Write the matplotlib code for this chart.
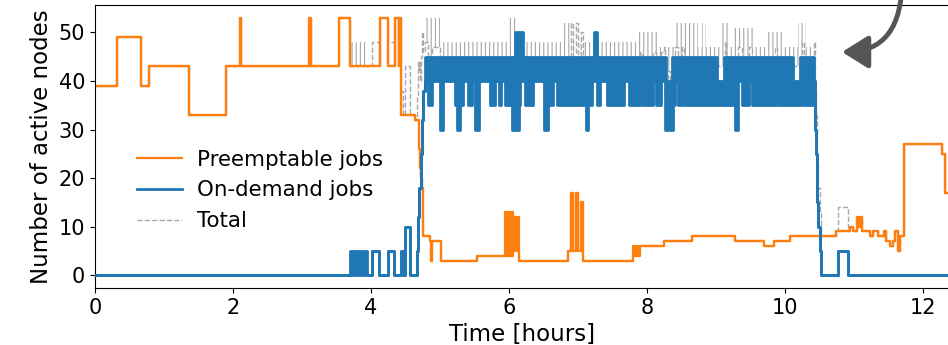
import numpy as np
import matplotlib
matplotlib.use("Agg")
import matplotlib.pyplot as plt
from matplotlib.patches import FancyArrowPatch


# Data -------------------------
# step series: value holds from t[i] until t[i+1]
# lo/hi differ only where the trace flickers too fast to see single steps

# preemptable jobs
pre_t = [0.00, 0.32, 0.67, 0.78, 1.36, 1.90, 2.10, 2.12, 3.10, 3.115,
         3.12, 3.13, 3.53, 3.69, 4.13, 4.24, 4.35, 4.40, 4.41, 4.44,
         4.64, 4.69, 4.70, 4.71, 4.72, 4.74, 4.76, 4.86, 4.87, 4.88,
         5.02, 5.53, 5.94, 6.06, 6.14, 6.85, 6.90, 6.93, 6.97, 7.00,
         7.04, 7.07, 7.79, 7.90, 8.24, 8.65, 9.28, 9.69, 9.84, 10.07,
         10.74, 10.94, 10.99, 11.04, 11.06, 11.08, 11.11, 11.16, 11.23, 11.28,
         11.35, 11.43, 11.46, 11.52, 11.57, 11.59, 11.64, 11.66, 11.72, 12.27,
         12.32, 12.40]
pre_lo = [39, 49, 39, 43, 33, 43, 53, 43, 53, 43,
          53, 43, 53, 43, 53, 43, 53, 43, 53, 33,
          32, 30, 26, 22, 20, 18, 8, 7, 3, 7,
          3, 4, 4, 5, 3, 5, 17, 5, 17, 5,
          15, 3, 4, 6, 7, 8, 7, 6, 7, 8,
          9, 10, 9, 12, 10, 12, 9, 9, 8, 9,
          8, 9, 7, 6, 7, 9, 5, 8, 27, 25,
          17, 17]
pre_hi = [39, 49, 39, 43, 33, 43, 53, 43, 53, 43,
          53, 43, 53, 43, 53, 43, 53, 43, 53, 33,
          32, 30, 26, 22, 20, 18, 8, 7, 3, 7,
          3, 4, 13, 12, 3, 5, 17, 5, 17, 5,
          15, 3, 6, 6, 7, 8, 7, 6, 7, 8,
          9, 10, 9, 12, 10, 12, 9, 9, 8, 9,
          8, 9, 7, 6, 7, 9, 5, 8, 27, 25,
          17, 17]

# on-demand jobs
od_t = [0.00, 3.69, 3.94, 4.02, 4.12, 4.24, 4.33, 4.44, 4.46, 4.49,
        4.56, 4.66, 4.68, 4.70, 4.72, 4.74, 4.76, 4.78, 4.83, 4.88,
        5.00, 5.05, 5.22, 5.24, 5.29, 5.34, 5.41, 5.46, 5.51, 5.56,
        5.72, 5.80, 5.85, 5.89, 5.94, 6.04, 6.08, 6.14, 6.16, 6.20,
        6.23, 6.35, 6.50, 6.56, 6.59, 6.64, 6.69, 6.84, 6.98, 7.03,
        7.10, 7.12, 7.15, 7.20, 7.23, 7.27, 7.28, 7.32, 7.42, 7.67,
        7.74, 7.90, 7.93, 8.08, 8.13, 8.21, 8.26, 8.28, 8.30, 8.33,
        8.36, 8.37, 8.41, 8.45, 8.50, 8.54, 9.01, 9.11, 9.13, 9.15,
        9.28, 9.32, 9.37, 9.48, 9.52, 9.86, 9.89, 10.12, 10.22, 10.24,
        10.27, 10.42, 10.43, 10.44, 10.45, 10.46, 10.47, 10.48, 10.50, 10.52,
        10.77, 10.92, 12.40]
od_lo = [0, 0, 0, 5, 0, 5, 0, 5, 0, 10,
         0, 5, 12, 18, 25, 32, 38, 40, 35, 40,
         30, 40, 35, 30, 35, 40, 35, 40, 30, 40,
         35, 40, 35, 40, 35, 30, 30, 35, 40, 40,
         35, 40, 30, 40, 35, 40, 35, 35, 35, 35,
         35, 30, 35, 40, 40, 35, 35, 40, 35, 40,
         35, 40, 35, 40, 35, 40, 30, 30, 35, 30,
         30, 35, 40, 35, 40, 35, 35, 35, 40, 35,
         30, 40, 35, 40, 35, 40, 35, 35, 35, 40,
         35, 40, 35, 30, 25, 20, 15, 10, 5, 0,
         5, 0, 0]
od_hi = [0, 5, 0, 5, 0, 5, 0, 5, 0, 10,
         0, 5, 12, 18, 25, 32, 38, 45, 45, 45,
         45, 45, 45, 45, 45, 45, 45, 45, 45, 45,
         45, 45, 45, 45, 45, 45, 50, 50, 50, 45,
         45, 45, 45, 45, 45, 45, 45, 45, 45, 45,
         45, 45, 45, 45, 50, 50, 45, 45, 45, 45,
         45, 45, 45, 45, 45, 45, 45, 40, 40, 40,
         45, 45, 45, 45, 45, 45, 40, 45, 45, 45,
         45, 45, 45, 45, 45, 45, 45, 40, 45, 45,
         45, 40, 35, 30, 25, 20, 15, 10, 5, 0,
         5, 0, 0]

# upper edge of the total while on-demand jobs are running (peaks do not line up)
tot_band_t = [4.78, 5.00, 5.97, 6.13, 6.76, 6.93, 7.11, 7.13, 7.85, 8.14,
              8.41, 8.74, 8.79, 8.86, 9.08, 9.18, 9.23, 9.56, 9.73, 9.97,
              10.19, 10.31, 10.42]
tot_band_v = [53, 48, 53, 48, 52, 48, 53, 48, 50, 47,
              52, 47, 52, 47, 52, 47, 51, 47, 50, 47,
              52, 47, 47]

x_ticks = [0, 2, 4, 6, 8, 10, 12]
y_ticks = [0, 10, 20, 30, 40, 50]

c_pre = "#ff7f0e"
c_od = "#1f77b4"
c_tot = "#a8a8a8"


# Total = sum of both on a common grid ---------
def value_at(t, v, grid):
    idx = np.searchsorted(t, grid, side="right") - 1
    return np.asarray(v, dtype=float)[idx]

grid = np.union1d(np.union1d(pre_t, od_t), tot_band_t)
tot_lo = value_at(pre_t, pre_lo, grid) + value_at(od_t, od_lo, grid)
tot_hi = value_at(pre_t, pre_hi, grid) + value_at(od_t, od_hi, grid)
in_band = (grid >= tot_band_t[0]) & (grid < tot_band_t[-1])
tot_hi[in_band] = np.maximum(value_at(tot_band_t, tot_band_v, grid[in_band]),
                             tot_lo[in_band])


# Plot ---------
plt.rcParams["font.family"] = "DejaVu Sans"
plt.rcParams["font.size"] = 15
plt.rcParams["axes.labelsize"] = 16.5
plt.rcParams["legend.fontsize"] = 15.4
plt.rcParams["hatch.color"] = c_tot
plt.rcParams["hatch.linewidth"] = 0.8

fig = plt.figure(figsize=(9.48, 3.45), dpi=100)
ax = fig.add_axes([95 / 948, 57 / 345, 855 / 948, 283 / 345])

# total (behind everything)
ax.fill_between(grid, tot_lo, tot_hi, step="post", facecolor="none",
                edgecolor=c_tot, hatch="||||", linewidth=0, zorder=1)
ax.step(grid, tot_lo, where="post", color=c_tot, lw=1.0, ls="--",
        zorder=1.5, label="Total")

# preemptable
ax.fill_between(pre_t, pre_lo, pre_hi, step="post", color=c_pre,
                linewidth=0, zorder=2)
ax.step(pre_t, pre_hi, where="post", color=c_pre, lw=1.6, zorder=2,
        label="Preemptable jobs")
ax.step(pre_t, pre_lo, where="post", color=c_pre, lw=1.6, zorder=2)

# on-demand
ax.fill_between(od_t, od_lo, od_hi, step="post", color=c_od,
                linewidth=0, zorder=3)
ax.step(od_t, od_hi, where="post", color=c_od, lw=2.0, zorder=3,
        label="On-demand jobs")
ax.step(od_t, od_lo, where="post", color=c_od, lw=2.0, zorder=3)

ax.set_xlim(0, 855 / 69)
ax.set_ylim(-2.65, 55.65)
ax.set_xticks(x_ticks)
ax.set_yticks(y_ticks)
ax.set_xlabel("Time [hours]")
ax.set_ylabel("Number of active nodes")

handles, labels = ax.get_legend_handles_labels()
order = [labels.index(l) for l in ["Preemptable jobs", "On-demand jobs", "Total"]]
ax.legend([handles[i] for i in order], [labels[i] for i in order],
          loc="upper left", bbox_to_anchor=(0.027, 0.557), frameon=False,
          handlelength=2.1, handletextpad=0.7)

# curved pointer coming in from the top right
arrow = FancyArrowPatch((902, 365), (842, 293), transform=None,
                        connectionstyle="angle3,angleA=90,angleB=0",
                        arrowstyle="-|>,head_length=0.4,head_width=0.25",
                        mutation_scale=40, lw=3.5, color="#555555",
                        shrinkA=0, shrinkB=0, zorder=10)
fig.add_artist(arrow)

fig.savefig("out.png", dpi=100)
